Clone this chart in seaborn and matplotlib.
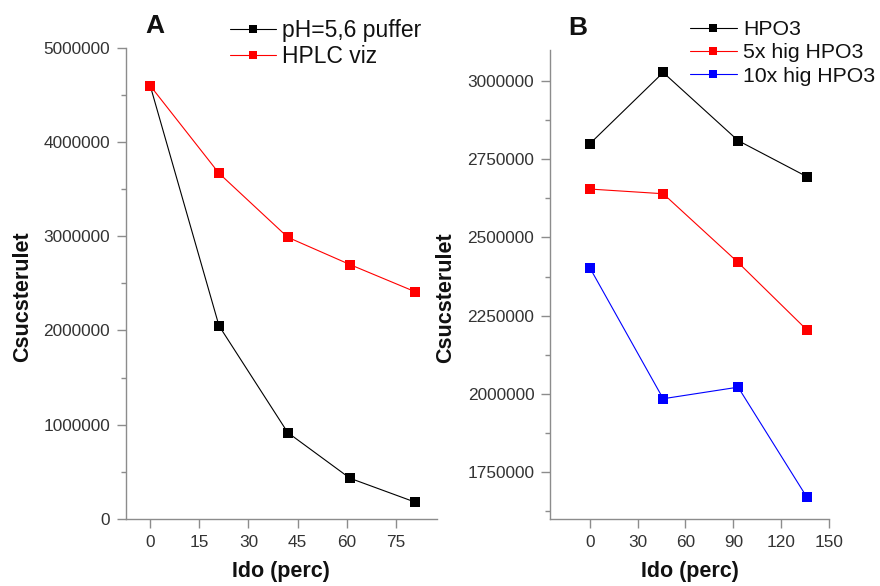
import matplotlib
matplotlib.use("Agg")
import matplotlib.pyplot as plt
from matplotlib.ticker import MultipleLocator, FuncFormatter
import seaborn as sns
import pandas as pd

# Panel A: peak area vs. time for two sample media
time_a = [0, 21, 42, 61, 81]
puffer = [4600000, 2050000, 915000, 430000, 175000]
hplc_viz = [4600000, 3670000, 2990000, 2700000, 2410000]
series_a = ["pH=5,6 puffer", "HPLC viz"]

# Panel B: peak area vs. time for three HPO3 concentrations
time_b = [0, 46, 93, 136]
hpo3 = [2800000, 3028000, 2810000, 2695000]
hpo3_5x = [2655000, 2640000, 2420000, 2205000]
hpo3_10x = [2403000, 1984000, 2021000, 1670000]
series_b = ["HPO3", "5x hig HPO3", "10x hig HPO3"]

sns.set_style("ticks")
plt.rcParams["font.family"] = ["Liberation Sans", "DejaVu Sans"]

df_a = pd.DataFrame({
    "t": time_a * 2,
    "v": puffer + hplc_viz,
    "s": [series_a[0]] * len(time_a) + [series_a[1]] * len(time_a),
})
df_b = pd.DataFrame({
    "t": time_b * 3,
    "v": hpo3 + hpo3_5x + hpo3_10x,
    "s": sum([[n] * len(time_b) for n in series_b], []),
})

fig = plt.figure(figsize=(8.8, 5.86), dpi=100)
ax_a = fig.add_axes([0.1428, 0.1148, 0.3535, 0.8032])
ax_b = fig.add_axes([0.625, 0.1148, 0.317, 0.7999])

pal_a = {series_a[0]: "black", series_a[1]: "#ff0000"}
pal_b = {series_b[0]: "black", series_b[1]: "#ff0000", series_b[2]: "#0000ff"}

line_kw = dict(linewidth=0.8, markersize=7.5, markeredgewidth=0, dashes=False, sort=False)

sns.lineplot(data=df_a, x="t", y="v", hue="s", style="s", palette=pal_a,
             markers={k: "s" for k in series_a}, ax=ax_a, **line_kw)
sns.lineplot(data=df_b, x="t", y="v", hue="s", style="s", palette=pal_b,
             markers={k: "s" for k in series_b}, ax=ax_b, **line_kw)

ax_a.set_xlim(-7.5, 87.5)
ax_a.set_ylim(0, 5000000)
ax_a.xaxis.set_major_locator(MultipleLocator(15))
ax_a.yaxis.set_major_locator(MultipleLocator(1000000))
ax_a.yaxis.set_minor_locator(MultipleLocator(500000))

ax_b.set_xlim(-25, 150)
ax_b.set_ylim(1600000, 3100000)
ax_b.xaxis.set_major_locator(MultipleLocator(30))
ax_b.yaxis.set_major_locator(MultipleLocator(250000))
ax_b.yaxis.set_minor_locator(MultipleLocator(125000))

fmt = FuncFormatter(lambda v, p: f"{int(round(v))}")
for ax, ylab_x in ((ax_a, -0.33), (ax_b, -0.375)):
    ax.yaxis.set_major_formatter(fmt)
    ax.xaxis.set_major_formatter(fmt)
    sns.despine(ax=ax)
    for sp in ("left", "bottom"):
        ax.spines[sp].set_color("#8c8c8c")
        ax.spines[sp].set_linewidth(1.0)
    ax.tick_params(which="major", direction="out", length=6.5, width=1.0,
                   color="#8c8c8c", labelsize=12.4, labelcolor="#333333")
    ax.tick_params(axis="y", which="major", pad=4.8)
    ax.tick_params(axis="x", which="major", pad=5)
    ax.tick_params(which="minor", direction="out", length=3.5, width=1.0,
                   color="#8c8c8c")
    ax.set_xlabel("Ido (perc)", fontsize=15.5, fontweight="bold", color="#111111")
    ax.set_ylabel("Csucsterulet", fontsize=15.5, fontweight="bold", color="#111111")
    ax.xaxis.label.set_va("center")
    ax.yaxis.label.set_va("center")
    ax.xaxis.set_label_coords(0.5, -0.113)
    ax.yaxis.set_label_coords(ylab_x, 0.471)

leg_kw = dict(frameon=False, handletextpad=0.29, borderpad=0, borderaxespad=0,
              loc="upper left", markerscale=0.8)
ax_a.legend(bbox_to_anchor=(0.335, 1.062), fontsize=16.5, handlelength=2.0,
            labelspacing=0.14, **leg_kw)
ax_b.legend(bbox_to_anchor=(0.502, 1.063), fontsize=15.3, handlelength=2.2,
            labelspacing=0.19, **leg_kw)
for leg in (ax_a.get_legend(), ax_b.get_legend()):
    for t in leg.get_texts():
        t.set_color("#111111")

fig.text(155 / 880, 1 - 26 / 586, "A", fontsize=19, fontweight="bold",
         ha="center", va="center", color="#111111")
fig.text(577.5 / 880, 1 - 28 / 586, "B", fontsize=19, fontweight="bold",
         ha="center", va="center", color="#111111")

fig.savefig("out.png", dpi=100)
